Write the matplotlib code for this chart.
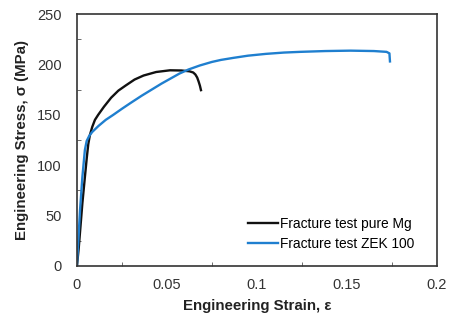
import matplotlib.pyplot as plt
import matplotlib.ticker as mticker

plt.rcParams['font.family'] = ['Liberation Sans', 'DejaVu Sans']

# pure Mg fracture test (strain, stress in MPa)
mg_strain = [0.0, 0.001, 0.002, 0.003, 0.0044, 0.0055, 0.0063, 0.0072, 0.0085, 0.01,
             0.0118, 0.015, 0.019, 0.023, 0.027, 0.032, 0.037, 0.044, 0.0517, 0.058,
             0.0625, 0.0646, 0.0658, 0.0668, 0.0676, 0.0683, 0.0689]
mg_stress = [0, 18, 40, 62, 88, 108, 121, 130, 138, 145,
             150, 158, 167, 174, 179, 185, 189, 192.5, 194.2, 194,
             193.2, 192, 190, 187, 183, 179, 174.5]

# ZEK 100 fracture test
zek_strain = [0.0, 0.0017, 0.003, 0.0044, 0.0054, 0.0068, 0.0085, 0.012, 0.016, 0.0202,
              0.025, 0.03, 0.036, 0.0415, 0.047, 0.052, 0.057, 0.062, 0.0683, 0.075,
              0.08, 0.0868, 0.095, 0.105, 0.115, 0.124, 0.138, 0.152, 0.165, 0.172,
              0.1736, 0.1739]
zek_stress = [0, 55, 88, 115, 124, 129, 133, 139, 145, 150,
              156, 162, 169, 175, 181, 186, 191, 195, 199, 202.5,
              204.5, 206.5, 208.7, 210.5, 211.8, 212.5, 213.3, 213.7, 213.3, 212.5,
              211, 203]

fig = plt.figure(figsize=(4.5, 3.2), dpi=100)
ax = fig.add_axes([0.171, 0.169, 0.8, 0.787])

ax.plot(mg_strain, mg_stress, color='#111111', lw=1.7, label='Fracture test pure Mg')
ax.plot(zek_strain, zek_stress, color='#1f7fcf', lw=1.7, label='Fracture test ZEK 100')

ax.set_xlim(0, 0.2)
ax.set_ylim(0, 250)
ax.set_xticks([0, 0.05, 0.1, 0.15, 0.2])
ax.set_xticklabels(['0', '0.05', '0.1', '0.15', '0.2'])
ax.set_yticks([0, 50, 100, 150, 200, 250])
ax.xaxis.set_minor_locator(mticker.MultipleLocator(0.025))
ax.yaxis.set_minor_locator(mticker.MultipleLocator(25))
ax.tick_params(which='major', length=0, labelsize=10.5, colors='#333333')
ax.tick_params(axis='x', which='major', pad=9)
ax.tick_params(axis='y', which='major', pad=11)
ax.tick_params(which='minor', direction='in', length=3, color='#555555')

for s in ax.spines.values():
    s.set_color('#333333')
    s.set_linewidth(1.2)

ax.set_xlabel('Engineering Strain, ε', fontsize=10.8, fontweight='bold', color='#222222', labelpad=5)
ax.set_ylabel('Engineering Stress, σ (MPa)', fontsize=10.8, fontweight='bold', color='#222222', labelpad=6)

ax.legend(loc='lower right', bbox_to_anchor=(0.965, 0.02), frameon=False, fontsize=9.9,
          handlelength=2.2, handletextpad=0.15, labelspacing=0.45, borderpad=0.2)

plt.savefig('out.png', dpi=100)
plt.close()
